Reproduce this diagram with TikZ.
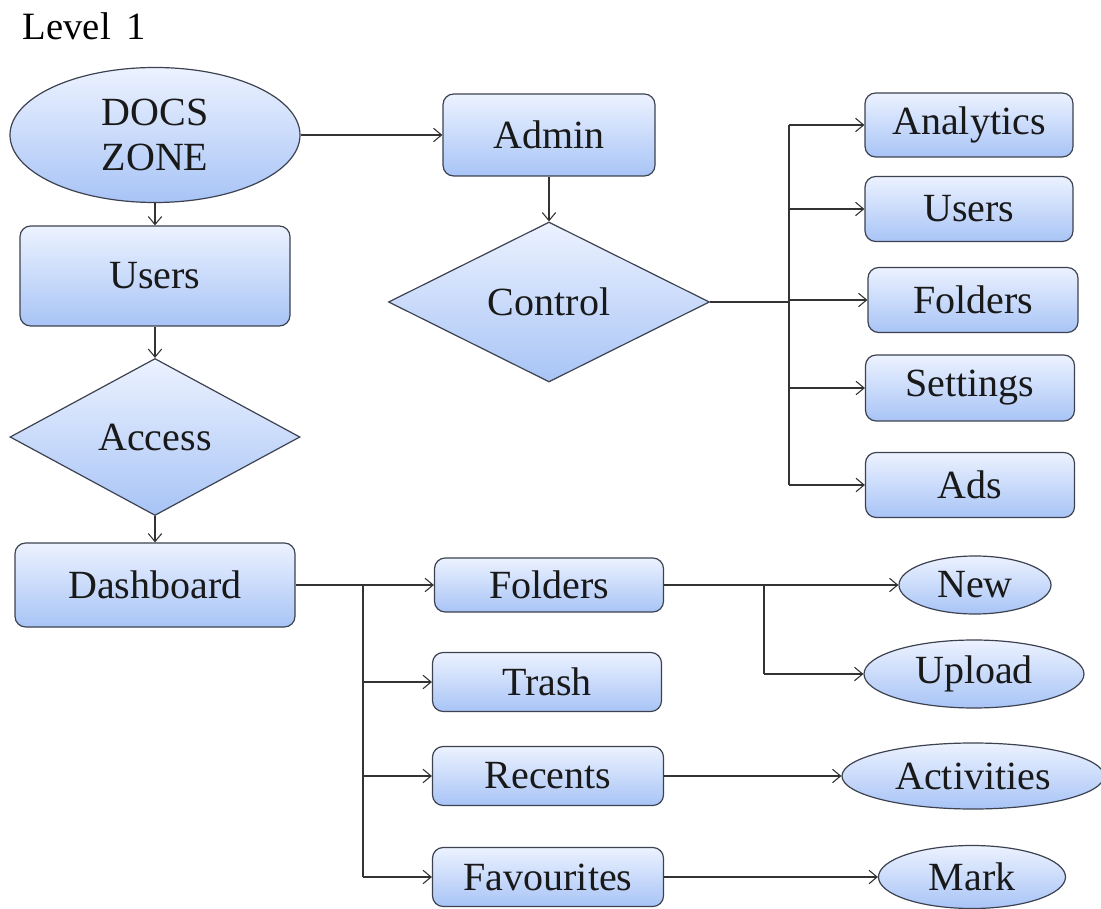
\documentclass[tikz,border=0pt]{standalone}
\usepackage{fontspec}
\setmainfont{Liberation Serif}
\newfontfamily\tnr{Liberation Serif}
\usetikzlibrary{shapes.geometric,arrows.meta}
\definecolor{topc}{RGB}{236,242,255}
\definecolor{botc}{RGB}{168,196,246}
\definecolor{edgec}{RGB}{60,66,80}
\tikzset{
  base/.style={draw=edgec, line width=0.9pt, top color=topc, bottom color=botc, inner sep=0pt, font=\tnr\fontsize{30}{34}\selectfont, text=black!90},
  rbox/.style={base, rectangle, rounded corners=8pt},
  ell/.style={base, ellipse},
  dia/.style={base, diamond},
  conn/.style={draw=black!80, line width=0.8pt, -{Straight Barb[length=6pt,width=10pt]}},
  plain/.style={draw=black!80, line width=0.8pt}
}
\newcommand{\W}[1]{#1*0.75pt}
\begin{document}
\begin{tikzpicture}[x=0.75pt,y=-0.75pt]
\useasboundingbox (0,0) rectangle (1101,909);
\node[anchor=west, font=\tnr\fontsize{29}{33}\selectfont] (lvl) at (18,26) {Level\, 1};
% left column
\node[ell, minimum width={\W{290}}, minimum height={\W{135}}, align=center] (docs) at (155,135) {DOCS\\ZONE};
\node[rbox, minimum width={\W{270}}, minimum height={\W{100}}] (users) at (155,276) {Users};
\node[dia, minimum width={\W{290}}, minimum height={\W{157}}] (access) at (155,437) {Access};
\node[rbox, minimum width={\W{280}}, minimum height={\W{84}}] (dash) at (155,585) {Dashboard};
% admin
\node[rbox, minimum width={\W{212}}, minimum height={\W{82}}] (admin) at (549,135) {Admin};
\node[dia, minimum width={\W{321}}, minimum height={\W{160}}] (control) at (549,302) {Control};
% right column
\node[rbox, minimum width={\W{208}}, minimum height={\W{64}}] (analytics) at (969,125) {Analytics};
\node[rbox, minimum width={\W{208}}, minimum height={\W{65}}] (users2) at (969,209) {Users};
\node[rbox, minimum width={\W{210}}, minimum height={\W{65}}] (folders2) at (973,300) {Folders};
\node[rbox, minimum width={\W{209}}, minimum height={\W{66}}] (settings) at (970,388) {Settings};
\node[rbox, minimum width={\W{209}}, minimum height={\W{65}}] (ads) at (970,485) {Ads};
% dashboard children
\node[rbox, minimum width={\W{229}}, minimum height={\W{54}}] (folders) at (549,585) {Folders};
\node[rbox, minimum width={\W{229}}, minimum height={\W{59}}] (trash) at (547,682) {Trash};
\node[rbox, minimum width={\W{231}}, minimum height={\W{59}}] (recents) at (548,776) {Recents};
\node[rbox, minimum width={\W{231}}, minimum height={\W{59}}] (fav) at (548,877) {Favourites};
% ellipses
\node[ell, minimum width={\W{152}}, minimum height={\W{58}}] (new) at (975,585) {New};
\node[ell, minimum width={\W{220}}, minimum height={\W{68}}] (upload) at (974,674) {Upload};
\node[ell, minimum width={\W{262}}, minimum height={\W{66}}] (act) at (973,776) {Activities};
\node[ell, minimum width={\W{187}}, minimum height={\W{63}}] (mark) at (972,877) {Mark};
% connectors
\draw[conn] (docs.east) -- (admin.west);
\draw[conn] (docs.south) -- (users.north);
\draw[conn] (users.south) -- (access.north);
\draw[conn] (access.south) -- (dash.north);
\draw[conn] (admin.south) -- (control.north);
\coordinate (cb) at (789,302);
\draw[plain] (control.east) -- (cb);
\coordinate (ct) at (789,125);
\coordinate (cbot) at (789,485);
\draw[plain] (ct) -- (cbot);
\draw[conn] (ct) -- (analytics.west);
\draw[conn] (users2.west -| cb) -- (users2.west);
\draw[conn] (folders2.west -| cb) -- (folders2.west);
\draw[conn] (settings.west -| cb) -- (settings.west);
\draw[conn] (cbot) -- (ads.west);
\draw[conn] (dash.east) -- (folders.west);
\coordinate (dt) at (363,585);
\coordinate (db) at (363,877);
\draw[plain] (dt) -- (db);
\draw[conn] (trash.west -| dt) -- (trash.west);
\draw[conn] (recents.west -| dt) -- (recents.west);
\draw[conn] (db) -- (fav.west);
\draw[conn] (folders.east) -- (new.west);
\coordinate (ft) at (764,585);
\coordinate (fb) at (764,674);
\draw[plain] (ft) -- (fb);
\draw[conn] (fb) -- (upload.west);
\draw[conn] (recents.east) -- (act.west);
\draw[conn] (fav.east) -- (mark.west);
\end{tikzpicture}
\end{document}
